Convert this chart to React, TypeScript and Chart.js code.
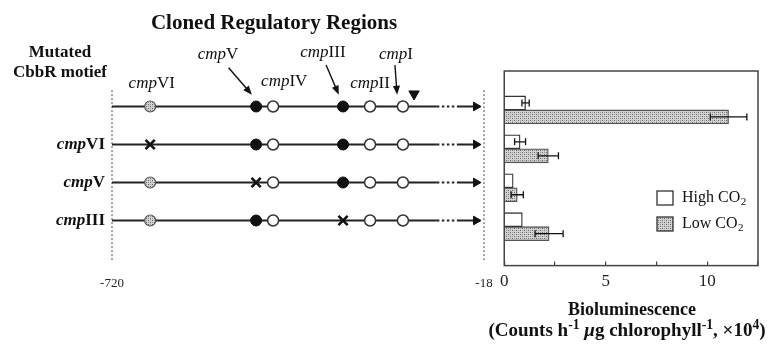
import React, { useEffect, useRef } from 'react';
import { Chart, registerables } from 'chart.js';

Chart.register(...registerables);

const SERIF = '"Liberation Serif", "Times New Roman", Times, serif';

// ---------- Left panel: cloned regulatory regions ----------
const regionBounds = [-720, -18];
const constructs = ['WT', 'cmpVI', 'cmpV', 'cmpIII'];
const constructNumerals = ['', 'VI', 'V', 'III'];
const mutatedMotif = [-1, 0, 1, 3];
const motifNumerals = ['VI', 'V', 'IV', 'III', 'II', 'I'];
const motifPos = [-648, -448, -416, -284, -233, -171];
const motifKind = ['hatched', 'filled', 'open', 'filled', 'open', 'open'];
const motifLabelX = [-645, -520, -395, -322, -233, -184];
const motifLabelY = [-0.61, -1.37, -0.66, -1.42, -0.61, -1.37];
const arrowMotifs = [1, 3, 5];
const arrowFromX = [-500, -316, -186];
const arrowFromY = [-1.02, -1.09, -1.09];
const arrowToX = [-456, -292, -182];
const arrowToY = [-0.31, -0.31, -0.31];
const lineBreaks = [-720, -107, -69, -30];
const arrowHeadPos = -33;
const tssPos = -150;
const tssY = -0.33;
const boundaryTop = -0.43;
const yRange = [-1.75, 4.05];

// ---------- Right panel: bioluminescence ----------
const barCategories = ['WT', 'cmpVI', 'cmpV', 'cmpIII'];
const highCO2 = [1.05, 0.78, 0.44, 0.89];
const highErr = [0.18, 0.27, 0, 0];
const lowCO2 = [11.05, 2.17, 0.64, 2.21];
const lowErr = [0.9, 0.5, 0.3, 0.69];
const xTickLabels = [0, 5, 10];
const xMax = 12.5;
const legendLabels = ['High CO2', 'Low CO2'];

function makePattern(): CanvasPattern | string {
  const c = document.createElement('canvas');
  c.width = 4;
  c.height = 4;
  const g = c.getContext('2d');
  if (!g) return '#bbb';
  g.fillStyle = '#d2d2d2';
  g.fillRect(0, 0, 4, 4);
  g.fillStyle = '#666';
  g.fillRect(0, 0, 1, 1);
  g.fillRect(2, 2, 1, 1);
  g.fillStyle = '#9a9a9a';
  g.fillRect(2, 0, 1, 1);
  g.fillRect(0, 2, 1, 1);
  const p = g.createPattern(c, 'repeat');
  return p || '#bbb';
}

function drawCmp(ctx: CanvasRenderingContext2D, num: string, px: number, py: number, align: string, bold: boolean) {
  const size = 17;
  const it = `${bold ? 'bold ' : ''}italic ${size}px ${SERIF}`;
  const rm = `${bold ? 'bold ' : ''}${size}px ${SERIF}`;
  ctx.font = it;
  const w1 = ctx.measureText('cmp').width;
  ctx.font = rm;
  const w2 = ctx.measureText(num).width;
  const x0 = align === 'center' ? px - (w1 + w2) / 2 : align === 'right' ? px - w1 - w2 : px;
  ctx.textBaseline = 'middle';
  ctx.textAlign = 'left';
  ctx.font = it;
  ctx.fillText('cmp', x0, py);
  ctx.font = rm;
  ctx.fillText(num, x0 + w1, py);
}

const leftAnnotations = {
  id: 'leftAnnotations',
  afterDraw(chart: any) {
    const { ctx, chartArea } = chart;
    const x = chart.scales.x;
    const y = chart.scales.y;
    ctx.save();
    ctx.fillStyle = '#111';
    motifNumerals.forEach((num, i) => {
      drawCmp(ctx, num, x.getPixelForValue(motifLabelX[i]), y.getPixelForValue(motifLabelY[i]), 'center', false);
    });
    arrowMotifs.forEach((_m, k) => {
      const x1 = x.getPixelForValue(arrowFromX[k]);
      const y1 = y.getPixelForValue(arrowFromY[k]);
      const x2 = x.getPixelForValue(arrowToX[k]);
      const y2 = y.getPixelForValue(arrowToY[k]);
      const ang = Math.atan2(y2 - y1, x2 - x1);
      const hl = 9;
      const hw = 3.6;
      ctx.strokeStyle = '#111';
      ctx.lineWidth = 1.4;
      ctx.beginPath();
      ctx.moveTo(x1, y1);
      ctx.lineTo(x2 - Math.cos(ang) * hl * 0.8, y2 - Math.sin(ang) * hl * 0.8);
      ctx.stroke();
      ctx.beginPath();
      ctx.moveTo(x2, y2);
      ctx.lineTo(x2 - Math.cos(ang) * hl - Math.sin(ang) * hw, y2 - Math.sin(ang) * hl + Math.cos(ang) * hw);
      ctx.lineTo(x2 - Math.cos(ang) * hl + Math.sin(ang) * hw, y2 - Math.sin(ang) * hl - Math.cos(ang) * hw);
      ctx.closePath();
      ctx.fill();
    });
    constructs.forEach((_c, r) => {
      if (!constructNumerals[r]) return;
      drawCmp(ctx, constructNumerals[r], chartArea.left - 7, y.getPixelForValue(r), 'right', true);
    });
    ctx.restore();
  },
};

function LeftPanel() {
  const ref = useRef<HTMLCanvasElement>(null);
  useEffect(() => {
    if (!ref.current) return;
    const pattern = makePattern();
    const filled: any[] = [];
    const open: any[] = [];
    const hatched: any[] = [];
    const crosses: any[] = [];
    const heads: any[] = [];
    constructs.forEach((_c, r) => {
      motifPos.forEach((p, m) => {
        const kind = mutatedMotif[r] === m ? 'cross' : motifKind[m];
        const pt = { x: p, y: r };
        if (kind === 'cross') crosses.push(pt);
        else if (kind === 'filled') filled.push(pt);
        else if (kind === 'open') open.push(pt);
        else hatched.push(pt);
      });
      heads.push({ x: arrowHeadPos, y: r });
    });
    const marker = (data: any[], extra: any) => ({
      data,
      showLine: false,
      clip: false,
      order: 0,
      pointRadius: 5.5,
      pointStyle: 'circle',
      ...extra,
    });
    const datasets: any[] = [
      marker(filled, { pointBackgroundColor: '#111', pointBorderColor: '#111', pointBorderWidth: 1 }),
      marker(open, { pointBackgroundColor: '#fff', pointBorderColor: '#333', pointBorderWidth: 1.5 }),
      marker(hatched, { pointBackgroundColor: pattern, pointBorderColor: '#555', pointBorderWidth: 1.2 }),
      marker(crosses, { pointStyle: 'crossRot', pointRadius: 6.5, pointBorderColor: '#111', pointBorderWidth: 2.6 }),
      marker(heads, { pointStyle: 'triangle', pointRotation: 90, pointRadius: 5, pointBackgroundColor: '#111', pointBorderColor: '#111', pointBorderWidth: 1 }),
      marker([{ x: tssPos, y: tssY }], { pointStyle: 'triangle', pointRotation: 180, pointRadius: 6, pointBackgroundColor: '#111', pointBorderColor: '#111', pointBorderWidth: 1 }),
    ];
    constructs.forEach((_c, r) => {
      datasets.push({
        data: lineBreaks.map((b) => ({ x: b, y: r })),
        borderColor: '#222',
        borderWidth: 2,
        pointRadius: 0,
        clip: false,
        order: 5,
        segment: { borderDash: (ctx: any) => (ctx.p0DataIndex === 1 ? [2.5, 2.5] : undefined) },
      });
    });
    regionBounds.forEach((b) => {
      datasets.push({
        data: [{ x: b, y: boundaryTop }, { x: b, y: yRange[1] }],
        borderColor: '#666',
        borderWidth: 1.2,
        borderDash: [2, 2],
        pointRadius: 0,
        clip: false,
        order: 6,
      });
    });
    const chart = new Chart(ref.current, {
      type: 'line',
      data: { datasets },
      options: {
        animation: false,
        responsive: false,
        events: [],
        layout: { padding: { left: 112, right: 16, top: 40, bottom: 49 } },
        plugins: { legend: { display: false }, tooltip: { enabled: false } },
        scales: {
          x: {
            type: 'linear',
            min: regionBounds[0],
            max: regionBounds[1],
            grid: { display: false },
            border: { display: false },
            afterBuildTicks: (axis: any) => {
              axis.ticks = regionBounds.map((v) => ({ value: v }));
            },
            ticks: {
              font: { family: SERIF, size: 13 },
              color: '#222',
              padding: 7,
              maxRotation: 0,
              autoSkip: false,
              callback: (v: any) => String(v),
            },
          },
          y: { type: 'linear', reverse: true, min: yRange[0], max: yRange[1], display: false },
        },
      } as any,
      plugins: [leftAnnotations],
    });
    return () => chart.destroy();
  }, []);
  return <canvas ref={ref} width={500} height={347} style={{ position: 'absolute', left: 0, top: 0 }} />;
}

function RightPanel() {
  const ref = useRef<HTMLCanvasElement>(null);
  useEffect(() => {
    if (!ref.current) return;
    const pattern = makePattern();
    const frame = {
      id: 'frame',
      afterDatasetsDraw(chart: any) {
        const { ctx, chartArea } = chart;
        const xs = chart.scales.x;
        ctx.save();
        ctx.strokeStyle = '#111';
        ctx.lineWidth = 1.3;
        [
          [highCO2, highErr],
          [lowCO2, lowErr],
        ].forEach(([vals, errs], d) => {
          const meta = chart.getDatasetMeta(d);
          vals.forEach((v: number, i: number) => {
            const e = errs[i];
            if (!e) return;
            const el = meta.data[i + 1];
            const yy = el.y;
            const x1 = xs.getPixelForValue(v - e);
            const x2 = xs.getPixelForValue(v + e);
            ctx.beginPath();
            ctx.moveTo(x1, yy);
            ctx.lineTo(x2, yy);
            ctx.moveTo(x1, yy - 3.5);
            ctx.lineTo(x1, yy + 3.5);
            ctx.moveTo(x2, yy - 3.5);
            ctx.lineTo(x2, yy + 3.5);
            ctx.stroke();
          });
        });
        ctx.strokeStyle = '#444';
        ctx.lineWidth = 1.5;
        ctx.strokeRect(chartArea.left, chartArea.top, chartArea.right - chartArea.left, chartArea.bottom - chartArea.top);
        // legend
        const bx = chartArea.right - 101;
        const tops = [chartArea.top + 120, chartArea.top + 146];
        const fills = ['#fff', pattern];
        legendLabels.forEach((lab, k) => {
          ctx.fillStyle = fills[k];
          ctx.fillRect(bx, tops[k], 16, 14);
          ctx.strokeStyle = '#333';
          ctx.lineWidth = 1.3;
          ctx.strokeRect(bx, tops[k], 16, 14);
          const main = lab.slice(0, -1);
          const sub = lab.slice(-1);
          ctx.fillStyle = '#111';
          ctx.textBaseline = 'middle';
          ctx.textAlign = 'left';
          ctx.font = `16px ${SERIF}`;
          const tx = bx + 25;
          const ty = tops[k] + 7;
          ctx.fillText(main, tx, ty);
          const w = ctx.measureText(main).width;
          ctx.font = `11px ${SERIF}`;
          ctx.fillText(sub, tx + w + 0.5, ty + 4);
        });
        ctx.restore();
      },
    };
    const chart = new Chart(ref.current, {
      type: 'bar',
      data: {
        labels: ['', ...barCategories, ''],
        datasets: [
          {
            label: legendLabels[0],
            data: [null, ...highCO2, null],
            backgroundColor: '#fff',
            borderColor: '#333',
            borderWidth: 1.3,
            barThickness: 14,
          },
          {
            label: legendLabels[1],
            data: [null, ...lowCO2, null],
            backgroundColor: pattern,
            borderColor: '#555',
            borderWidth: 1.3,
            barThickness: 14,
          },
        ],
      },
      options: {
        indexAxis: 'y',
        animation: false,
        responsive: false,
        events: [],
        layout: { padding: { left: 14, right: 13, top: 71, bottom: 45 } },
        plugins: { legend: { display: false }, tooltip: { enabled: false } },
        scales: {
          x: {
            type: 'linear',
            min: 0,
            max: xMax,
            ticks: {
              stepSize: 2.5,
              autoSkip: false,
              maxRotation: 0,
              padding: 10,
              color: '#222',
              font: { family: SERIF, size: 17 },
              callback: (v: any) => (xTickLabels.includes(Number(v)) ? String(v) : ''),
            },
            grid: { drawOnChartArea: false, drawTicks: true, tickLength: -4, color: '#444', lineWidth: 1.2 },
            border: { display: false },
          },
          y: { type: 'category', offset: false, display: false, grid: { display: false } },
        },
      } as any,
      plugins: [frame],
    });
    return () => chart.destroy();
  }, []);
  return <canvas ref={ref} width={281} height={347} style={{ position: 'absolute', left: 490, top: 0 }} />;
}

export default function App() {
  const supStyle: React.CSSProperties = { fontSize: '0.72em', position: 'relative', top: '-0.5em', verticalAlign: 'baseline' };
  return (
    <div
      style={{
        position: 'absolute',
        left: 0,
        top: 0,
        width: 771,
        height: 347,
        overflow: 'hidden',
        background: '#fff',
        fontFamily: SERIF,
        color: '#111',
      }}
    >
      <LeftPanel />
      <RightPanel />
      <div style={{ position: 'absolute', left: 0, width: 548, top: 10, textAlign: 'center', fontWeight: 'bold', fontSize: 21, lineHeight: '24px' }}>
        Cloned Regulatory Regions
      </div>
      <div style={{ position: 'absolute', left: 0, width: 120, top: 42, textAlign: 'center', fontWeight: 'bold', fontSize: 17, lineHeight: '20px' }}>
        Mutated
        <br />
        CbbR motief
      </div>
      <div style={{ position: 'absolute', left: 487, width: 290, top: 298, textAlign: 'center', fontWeight: 'bold', fontSize: 18, lineHeight: '22px' }}>
        Bioluminescence
      </div>
      <div style={{ position: 'absolute', left: 457, width: 340, top: 319, textAlign: 'center', fontWeight: 'bold', fontSize: 19, lineHeight: '22px', whiteSpace: 'nowrap' }}>
        (Counts h<span style={supStyle}>-1</span> <i>μ</i>g chlorophyll<span style={supStyle}>-1</span>, ×10<span style={supStyle}>4</span>)
      </div>
    </div>
  );
}
